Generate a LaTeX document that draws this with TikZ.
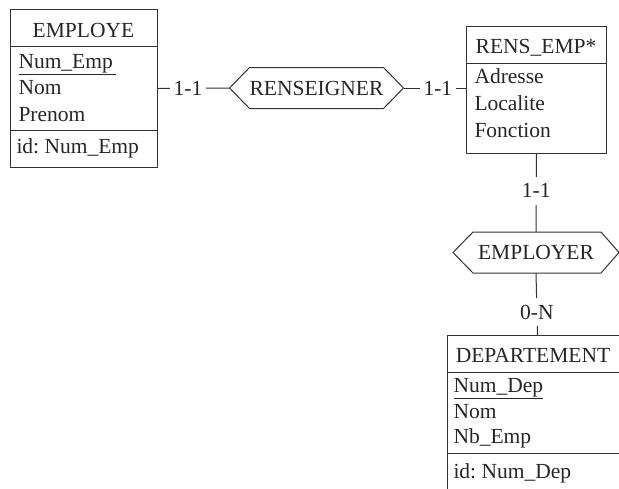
\documentclass[tikz,border=0pt]{standalone}
\usepackage{fontspec}
\setmainfont{Liberation Serif}
\begin{document}
\frenchspacing
\begin{tikzpicture}[x=1pt,y=-1pt,line width=1pt,
  every node/.style={font=\fontsize{21.5}{26}\selectfont,inner sep=0pt,text=black!85},
  entity/.style={draw=black!80,anchor=north west,minimum width=#1},
  title/.style={anchor=base},
  attr/.style={anchor=base west},
  rel/.style={minimum height=40pt,minimum width=#1},
  card/.style={fill=white,inner xsep=4pt,inner ysep=7pt},
  link/.style={draw=black!80}]
\useasboundingbox (0,0) rectangle (619,488);

% ---- EMPLOYE ----
\node[entity=147pt,minimum height=158pt] (emp) at (10,9) {};
\node[title] (empT) at (83.5,37) {EMPLOYE};
\draw[black!80] (10,46) -- (157,46);
\node[attr] (empA1) at (18,68) {\underline{Num\_Emp\,}};
\node[attr] (empA2) at (18,94) {Nom};
\node[attr] (empA3) at (18,121) {Prenom};
\draw[black!80] (10,130) -- (157,130);
\node[attr] (empId) at (16,153) {id: Num\_Emp};

% ---- RENS_EMP* ----
\node[entity=140pt,minimum height=127pt] (rens) at (466,26) {};
\node[title] (rensT) at (536,53) {RENS\_EMP*};
\draw[black!80] (466,63) -- (606,63);
\node[attr] (rensA1) at (474,83) {Adresse};
\node[attr] (rensA2) at (474,110) {Localite};
\node[attr] (rensA3) at (474,137) {Fonction};

% ---- DEPARTEMENT ----
\node[entity=180pt,minimum height=160pt] (dep) at (447,335) {};
\node[title] (depT) at (533,362) {DEPARTEMENT};
\draw[black!80] (447,372) -- (627,372);
\node[attr] (depA1) at (453,392) {\underline{Num\_Dep}};
\node[attr] (depA2) at (453,418) {Nom};
\node[attr] (depA3) at (453,443) {Nb\_Emp};
\draw[black!80] (447,453) -- (627,453);
\node[attr] (depId) at (453,478) {id: Num\_Dep};

% ---- relationships (hexagons) ----
\node[rel=173pt] (ren) at (316.5,88) {RENSEIGNER};
\draw[black!80] (ren.west) -- ([xshift=20pt]ren.north west) -- ([xshift=-20pt]ren.north east)
  -- (ren.east) -- ([xshift=-20pt]ren.south east) -- ([xshift=20pt]ren.south west) -- cycle;

\node[rel=165pt] (empl) at (536,252.5) {EMPLOYER};
\draw[black!80] (empl.west) -- ([xshift=20pt]empl.north west) -- ([xshift=-18pt]empl.north east)
  -- (empl.east) -- ([xshift=-18pt]empl.south east) -- ([xshift=20pt]empl.south west) -- cycle;

% ---- connectors ----
\draw[link] (emp.east) -- node[card,pos=0.42] (c1) {1-1} (ren.west);
\draw[link] (ren.east) -- node[card,pos=0.55] (c2) {1-1} (rens.west |- ren.east);
\draw[link] (rens.south) -- node[card,pos=0.47] (c3) {1-1} (empl.north);
\draw[link] (empl.south) -- node[card,pos=0.63] (c4) {0-N} (dep.north);
\end{tikzpicture}
\end{document}
